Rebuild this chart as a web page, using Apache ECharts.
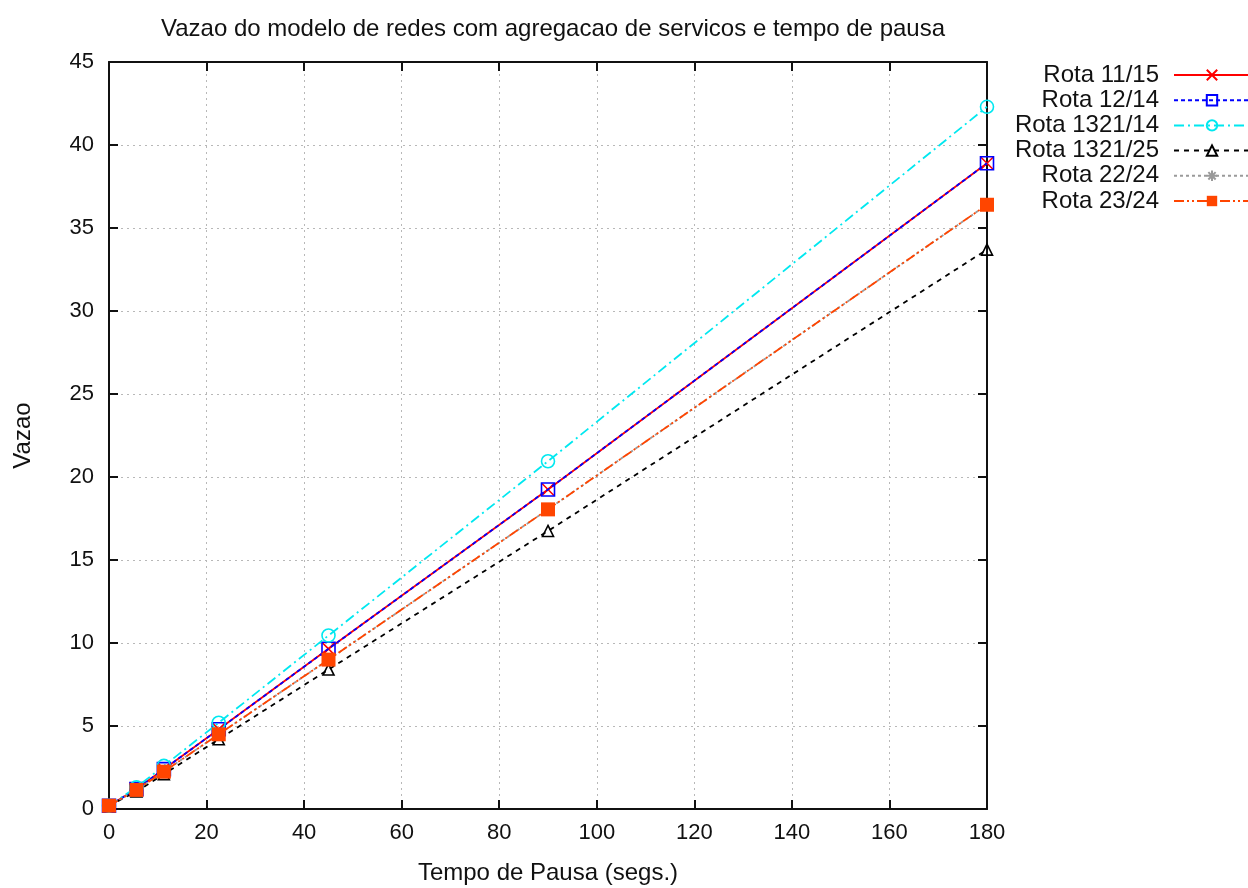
<!DOCTYPE html>
<html>
<head>
<meta charset="utf-8">
<script src="https://cdn.jsdelivr.net/npm/echarts@6/dist/echarts.min.js"></script>
<style>
  html, body { margin: 0; padding: 0; background: #fff; }
  #chart { width: 1248px; height: 888px; }
</style>
</head>
<body>
<div id="chart"></div>
<script>
// Pause times (s) at which throughput was measured
const pauseTimes = [0, 5.625, 11.25, 22.5, 45, 90, 180];

// Throughput per route
const rota1115   = [0.2, 1.2, 2.4, 4.8, 9.65, 19.25, 38.9];
const rota1214   = [0.2, 1.2, 2.4, 4.8, 9.65, 19.25, 38.9];
const rota132114 = [0.2, 1.3, 2.6, 5.2, 10.45, 20.95, 42.3];
const rota132125 = [0.2, 1.05, 2.1, 4.2, 8.4, 16.75, 33.7];
const rota2224   = [0.2, 1.15, 2.25, 4.5, 9.0, 18.05, 36.4];
const rota2324   = [0.2, 1.15, 2.25, 4.5, 9.0, 18.05, 36.4];

const seriesNames = ['Rota 11/15', 'Rota 12/14', 'Rota 1321/14', 'Rota 1321/25', 'Rota 22/24', 'Rota 23/24'];
const seriesValues = [rota1115, rota1214, rota132114, rota132125, rota2224, rota2324];

const yTicks = { min: 0, max: 45, step: 5 };
const xTicks = { min: 0, max: 180, step: 20 };

const FONT = 'Liberation Sans';

// gnuplot-like point and line styles
const styles = [
  { color: '#ff0000', line: 'solid', symbol: 'path://M0,0L10,10M10,0L0,10', size: 12, fill: 'none' },
  { color: '#0000ff', line: [4, 3], symbol: 'rect', size: 13, fill: 'none' },
  { color: '#00e8f0', line: [10, 4, 2, 4], symbol: 'circle', size: 13, fill: 'none' },
  { color: '#000000', line: [5, 5], symbol: 'triangle', size: 11, fill: 'none' },
  { color: '#9a9a9a', line: [3, 3], symbol: 'path://M5,0L5,10M0,5L10,5M1.5,1.5L8.5,8.5M8.5,1.5L1.5,8.5', size: 12, fill: 'none' },
  { color: '#ff4500', line: [10, 3, 2, 3, 2, 3], symbol: 'rect', size: 14, fill: 'filled' }
];

const series = seriesNames.map((name, i) => {
  const st = styles[i];
  const filled = st.fill === 'filled';
  return {
    name: name,
    type: 'line',
    data: pauseTimes.map((x, j) => [x, seriesValues[i][j]]),
    symbol: st.symbol,
    symbolSize: st.size,
    showAllSymbol: true,
    animation: false,
    lineStyle: { color: st.color, width: 1.8, type: st.line },
    itemStyle: {
      color: filled ? st.color : 'rgba(255,255,255,0)',
      borderColor: st.color,
      borderWidth: filled ? 0 : 1.6
    },
    emphasis: { disabled: true },
    z: 2 + i
  };
});

// one legend per series so that labels are right-aligned with samples in a column
const legendTop0 = 63;
const legendGap = 25.2;
const legends = seriesNames.map((name, i) => ({
  data: [name],
  right: -3,
  top: legendTop0 + i * legendGap,
  align: 'right',
  itemWidth: 76,
  itemHeight: 13,
  itemGap: 16,
  selectedMode: false,
  padding: 0,
  textStyle: { fontFamily: FONT, fontSize: 24, color: '#111', padding: [0, 10, 0, 0] }
}));

const chart = echarts.init(document.getElementById('chart'), null, { renderer: 'canvas' });
chart.setOption({
  backgroundColor: '#ffffff',
  animation: false,
  title: {
    text: 'Vazao do modelo de redes com agregacao de servicos e tempo de pausa',
    left: 548,
    top: 12,
    textAlign: 'center',
    textStyle: { fontFamily: FONT, fontSize: 24, fontWeight: 'normal', color: '#111' }
  },
  legend: legends,
  grid: { left: 109, right: 261, top: 62, bottom: 79, containLabel: false, outerBoundsMode: 'none' },
  xAxis: [
    {
      type: 'value', min: xTicks.min, max: xTicks.max, interval: xTicks.step,
      name: 'Tempo de Pausa (segs.)', nameLocation: 'middle', nameGap: 52,
      nameTextStyle: { fontFamily: FONT, fontSize: 24, color: '#111' },
      axisLine: { show: true, onZero: false, lineStyle: { color: '#111', width: 2 } },
      axisTick: { show: true, inside: true, length: 9, lineStyle: { color: '#111', width: 2 } },
      axisLabel: { fontFamily: FONT, fontSize: 22, color: '#111', margin: 13 },
      splitLine: { show: true, lineStyle: { color: '#b8b8b8', type: [2, 4], width: 1 } }
    },
    {
      type: 'value', position: 'top', min: xTicks.min, max: xTicks.max, interval: xTicks.step,
      axisLine: { show: true, onZero: false, lineStyle: { color: '#111', width: 2 } },
      axisTick: { show: true, inside: true, length: 9, lineStyle: { color: '#111', width: 2 } },
      axisLabel: { show: false },
      splitLine: { show: false }
    }
  ],
  yAxis: [
    {
      type: 'value', min: yTicks.min, max: yTicks.max, interval: yTicks.step,
      name: 'Vazao', nameLocation: 'middle', nameGap: 74, nameRotate: 90,
      nameTextStyle: { fontFamily: FONT, fontSize: 24, color: '#111' },
      axisLine: { show: true, onZero: false, lineStyle: { color: '#111', width: 2 } },
      axisTick: { show: true, inside: true, length: 9, lineStyle: { color: '#111', width: 2 } },
      axisLabel: { fontFamily: FONT, fontSize: 22, color: '#111', margin: 15 },
      splitLine: { show: true, lineStyle: { color: '#b8b8b8', type: [2, 4], width: 1 } }
    },
    {
      type: 'value', position: 'right', min: yTicks.min, max: yTicks.max, interval: yTicks.step,
      axisLine: { show: true, onZero: false, lineStyle: { color: '#111', width: 2 } },
      axisTick: { show: true, inside: true, length: 9, lineStyle: { color: '#111', width: 2 } },
      axisLabel: { show: false },
      splitLine: { show: false }
    }
  ],
  series: series
});
</script>
</body>
</html>
